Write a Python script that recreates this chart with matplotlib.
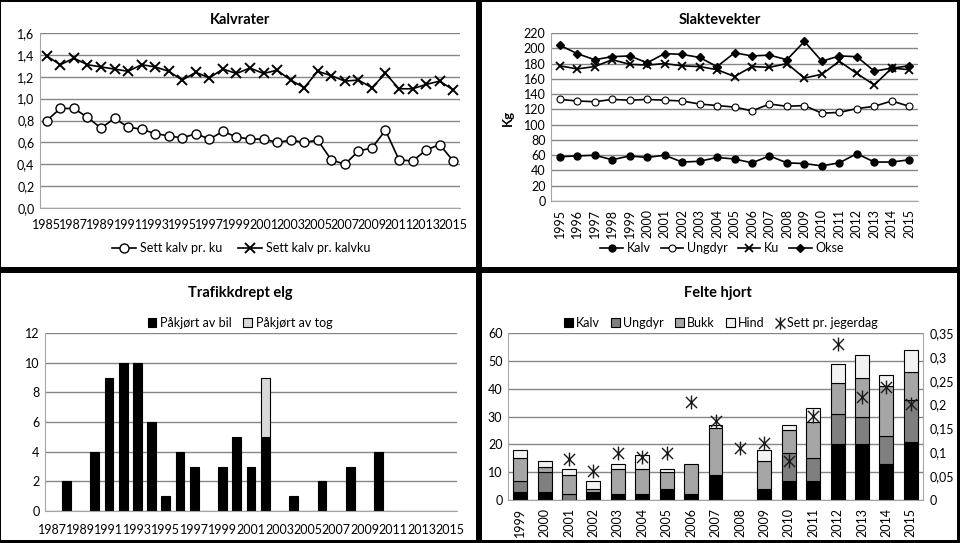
import numpy as np
import matplotlib
matplotlib.use('Agg')
import matplotlib.pyplot as plt
from matplotlib.patches import Rectangle, Patch
from matplotlib.lines import Line2D
from matplotlib.path import Path

plt.rcParams['font.family'] = ['Lato', 'DejaVu Sans']
plt.rcParams['font.size'] = 9

# Kalvrater
kr_years = list(range(1985, 2016))
kalv_pr_ku = [0.80, 0.91, 0.91, 0.83, 0.73, 0.82, 0.74, 0.72, 0.68, 0.66, 0.64,
              0.68, 0.63, 0.70, 0.65, 0.63, 0.63, 0.60, 0.62, 0.60, 0.62, 0.44,
              0.40, 0.52, 0.55, 0.71, 0.44, 0.43, 0.53, 0.58, 0.43]
kalv_pr_kalvku = [1.39, 1.31, 1.37, 1.31, 1.29, 1.27, 1.25, 1.31, 1.29, 1.25, 1.17,
                  1.24, 1.19, 1.27, 1.23, 1.28, 1.23, 1.26, 1.17, 1.10, 1.25, 1.21,
                  1.16, 1.17, 1.10, 1.23, 1.09, 1.09, 1.13, 1.16, 1.08]

# Slaktevekter
sv_years = list(range(1995, 2016))
sv_kalv = [58, 59, 60, 54, 59, 57, 60, 51, 52, 57, 55, 50, 59, 50, 49, 46, 50, 62, 51, 51, 54]
sv_ungdyr = [133, 131, 130, 133, 132, 133, 132, 131, 127, 125, 123, 118, 127, 124, 125,
             115, 116, 121, 124, 131, 124]
sv_ku = [177, 173, 176, 185, 179, 178, 180, 177, 176, 172, 163, 176, 175, 180, 161,
         166, 183, 167, 152, 174, 172]
sv_okse = [204, 193, 185, 189, 190, 181, 193, 192, 188, 176, 194, 190, 191, 185, 209,
           183, 190, 189, 170, 174, 177]

# Trafikkdrept elg
te_years = list(range(1987, 2016))
te_bil = [0, 2, 0, 4, 9, 10, 10, 6, 1, 4, 3, 0, 3, 5, 3, 5, 0, 1, 0, 2, 0, 3, 0, 4,
          0, 0, 0, 0, 0]
te_tog = [0] * 15 + [4] + [0] * 13

# Felte hjort
fh_years = list(range(1999, 2016))
fh_kalv = [3, 3, 0, 3, 2, 2, 4, 2, 9, 0, 4, 7, 7, 20, 20, 13, 21]
fh_ungdyr = [4, 7, 2, 0, 0, 0, 0, 0, 0, 0, 0, 10, 8, 11, 10, 10, 15]
fh_bukk = [8, 2, 7, 1, 9, 9, 6, 11, 17, 0, 10, 8, 13, 11, 14, 18, 10]
fh_hind = [3, 2, 2, 3, 2, 5, 1, 0, 1, 0, 4, 2, 5, 7, 8, 4, 8]
fh_sett = [np.nan, np.nan, 0.085, 0.061, 0.098, 0.091, 0.098, 0.206, 0.165, 0.109,
           0.120, 0.082, 0.176, 0.326, 0.215, 0.237, 0.201]

W, H = 960, 543
fig = plt.figure(figsize=(W / 100, H / 100), dpi=100, facecolor='black')


def px_rect(l, t, r, b):
    return [l / W, 1 - b / H, (r - l) / W, (b - t) / H]


def fx(x):
    return x / W


def fy(y):
    return 1 - y / H


# white panels
for l, t, r, b in [(1, 2, 476, 267), (482, 2, 957, 267), (1, 273, 476, 540), (482, 273, 957, 540)]:
    fig.patches.append(Rectangle((fx(l), fy(b)), (r - l) / W, (b - t) / H,
                                 transform=fig.transFigure, facecolor='white',
                                 edgecolor='none', zorder=-5))

grid_c = '#868686'
spine_c = '#a6a6a6'


def style(ax):
    for s in ['top', 'right']:
        ax.spines[s].set_visible(False)
    ax.spines['left'].set_color(spine_c)
    ax.spines['bottom'].set_color(spine_c)
    ax.yaxis.grid(True, color=grid_c, lw=1)
    ax.set_axisbelow(True)
    ax.tick_params(length=0, pad=4)
    ax.set_facecolor('none')


def nonzero_bar(ax, x, h, bottom, **kw):
    x, h, bottom = np.asarray(x), np.asarray(h, dtype=float), np.asarray(bottom, dtype=float)
    keep = h > 0
    return ax.bar(x[keep], h[keep], bottom=bottom[keep], **kw)


# ---- Kalvrater
ax1 = fig.add_axes(px_rect(40, 33, 460, 208))
style(ax1)
ax1.plot(kr_years, kalv_pr_ku, color='black', lw=1.2, marker='o', ms=6.5,
         mfc='white', mec='black', mew=1, label='Sett kalv pr. ku')
ax1.plot(kr_years, kalv_pr_kalvku, color='black', lw=1.2, marker='x', ms=6.5,
         mew=1.4, label='Sett kalv pr. kalvku')
ax1.set_xlim(1984.5, 2015.5)
ax1.set_ylim(0, 1.6)
ax1.set_yticks(np.arange(0, 1.61, 0.2))
ax1.yaxis.set_major_formatter(matplotlib.ticker.FuncFormatter(lambda v, p: f'{v:.1f}'.replace('.', ',')))
ax1.set_xticks(kr_years[::2])
ax1.tick_params(axis='x', pad=8)
ax1.legend(loc='center', bbox_to_anchor=(fx(241), fy(248)), bbox_transform=fig.transFigure,
           ncol=2, frameon=False, handlelength=1.9, handletextpad=0.3, columnspacing=1.3, fontsize=9)
fig.text(fx(240), fy(20), 'Kalvrater', ha='center', va='center', fontsize=10.5, fontweight='bold')

# ---- Slaktevekter
ax2 = fig.add_axes(px_rect(551, 33, 918, 201))
style(ax2)
ax2.plot(sv_years, sv_kalv, color='black', lw=1.2, marker='o', ms=5, mfc='black', label='Kalv')
ax2.plot(sv_years, sv_ungdyr, color='black', lw=1.2, marker='o', ms=5, mfc='white', mew=0.8, label='Ungdyr')
ax2.plot(sv_years, sv_ku, color='black', lw=1.2, marker='x', ms=5.5, mew=1.3, label='Ku')
ax2.plot(sv_years, sv_okse, color='black', lw=1.2, marker='D', ms=4, mfc='black', label='Okse')
ax2.set_xlim(1994.5, 2015.5)
ax2.set_ylim(0, 220)
ax2.set_yticks(range(0, 221, 20))
ax2.set_xticks(sv_years)
ax2.set_xticklabels([str(y) for y in sv_years], rotation=90)
ax2.tick_params(axis='x', pad=6)
ax2.legend(loc='center', bbox_to_anchor=(fx(722), fy(248)), bbox_transform=fig.transFigure,
           ncol=4, frameon=False, handlelength=1.8, columnspacing=0.8, handletextpad=0.3, fontsize=9)
fig.text(fx(720), fy(20), 'Slaktevekter', ha='center', va='center', fontsize=10.5, fontweight='bold')
fig.text(fx(508), fy(118), 'Kg', ha='center', va='center', rotation=90, fontsize=9.5, fontweight='bold')

# ---- Trafikkdrept elg
ax3 = fig.add_axes(px_rect(45, 333, 457, 511))
style(ax3)
nonzero_bar(ax3, te_years, te_bil, np.zeros(len(te_years)), width=0.62, color='black',
            edgecolor='black', lw=0.8)
nonzero_bar(ax3, te_years, te_tog, te_bil, width=0.62, color='#d9d9d9', edgecolor='black', lw=0.8)
ax3.set_xlim(1986.5, 2015.5)
ax3.set_ylim(0, 12)
ax3.set_yticks(range(0, 13, 2))
ax3.set_xticks(te_years[::2])
ax3.tick_params(axis='x', pad=9)
te_handles = [Patch(facecolor='black', edgecolor='black', lw=0.8),
              Patch(facecolor='#d9d9d9', edgecolor='black', lw=0.8)]
ax3.legend(te_handles, ['Påkjørt av bil', 'Påkjørt av tog'], loc='center',
           bbox_to_anchor=(fx(240), fy(323)), bbox_transform=fig.transFigure,
           ncol=2, frameon=False, handlelength=0.7, handleheight=0.7, handletextpad=0.3,
           columnspacing=0.9, fontsize=9)
fig.text(fx(240), fy(293), 'Trafikkdrept elg', ha='center', va='center', fontsize=10.5, fontweight='bold')

# ---- Felte hjort
ax4 = fig.add_axes(px_rect(508, 333, 923, 500))
style(ax4)
cols = ['black', '#7f7f7f', '#a6a6a6', '#f2f2f2']
names = ['Kalv', 'Ungdyr', 'Bukk', 'Hind']
bottom = np.zeros(len(fh_years))
for vals, c in zip([fh_kalv, fh_ungdyr, fh_bukk, fh_hind], cols):
    v = np.array(vals, dtype=float)
    nonzero_bar(ax4, fh_years, v, bottom, width=0.57, color=c, edgecolor='black', lw=0.8)
    bottom += v
ax4.set_xlim(1998.5, 2015.5)
ax4.set_ylim(0, 60)
ax4.set_yticks(range(0, 61, 10))
ax4.set_xticks(fh_years)
ax4.set_xticklabels([str(y) for y in fh_years], rotation=90)
ax4.tick_params(axis='x', pad=6)

star = Path([(-1, -1), (1, 1), (-1, 1), (1, -1), (0, -1.25), (0, 1.25)],
            [Path.MOVETO, Path.LINETO, Path.MOVETO, Path.LINETO, Path.MOVETO, Path.LINETO])
ax4r = ax4.twinx()
ax4r.set_facecolor('none')
for s in ['top', 'left', 'bottom']:
    ax4r.spines[s].set_visible(False)
ax4r.spines['right'].set_color(spine_c)
ax4r.plot(fh_years, fh_sett, ls='none', marker=star, ms=10, mec='#1a1a1a', mfc='none', mew=1)
ax4r.set_ylim(0, 0.35)
ax4r.set_yticks(np.arange(0, 0.351, 0.05))
ax4r.yaxis.set_major_formatter(matplotlib.ticker.FuncFormatter(lambda v, p: f'{round(v, 2):g}'.replace('.', ',')))
ax4r.tick_params(length=0, pad=5)

handles = [Patch(facecolor=c, edgecolor='black', lw=0.8) for c in cols]
handles.append(Line2D([], [], ls='none', marker=star, ms=9, mec='#1a1a1a', mfc='none', mew=1))
fig.legend(handles, names + ['Sett pr. jegerdag'], loc='center', bbox_to_anchor=(fx(721), fy(323)),
           ncol=5, frameon=False, handlelength=0.7, handleheight=0.7, handletextpad=0.25,
           columnspacing=0.9, fontsize=9)
fig.text(fx(718), fy(293), 'Felte hjort', ha='center', va='center', fontsize=10.5, fontweight='bold')

fig.savefig('out.png', dpi=100, facecolor='black')
